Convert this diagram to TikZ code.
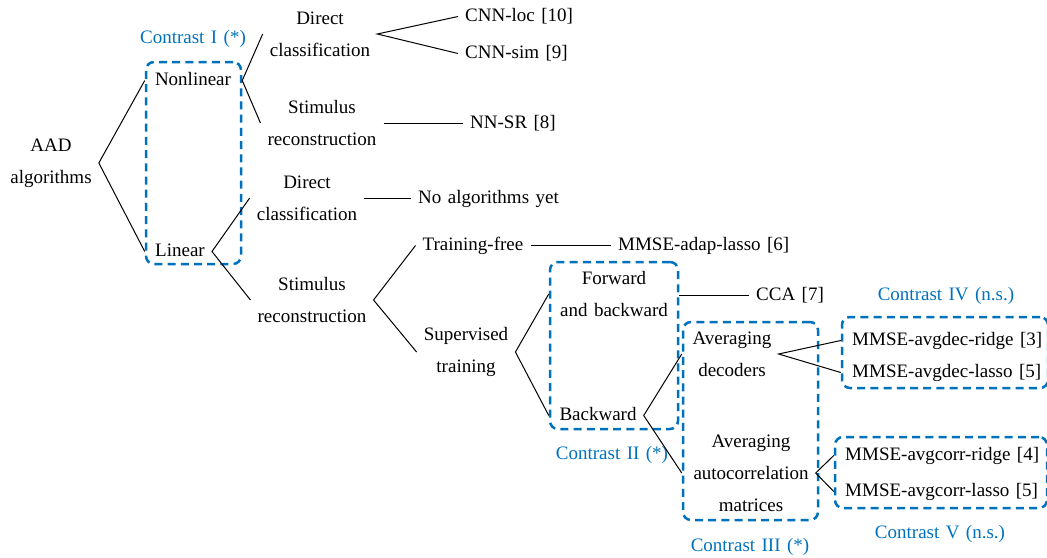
\documentclass[tikz,border=0pt]{standalone}
\usepackage{fontspec}
\setmainfont{Liberation Serif}
\definecolor{cblue}{RGB}{0,114,189}
\newcommand\diagfont{\fontsize{9.5}{16}\selectfont\spaceskip=0.34em plus 0.1em\relax}
\begin{document}
\begin{tikzpicture}[x=0.5pt,y=-0.5pt,
  every node/.style={font=\diagfont},
  lbl/.style={align=center, inner sep=3.4pt},
  one/.style={inner sep=3.4pt, text height=0.68em, text depth=0.2em, yshift=-1.25pt},
  ctr/.style={one, text=cblue},
  cbox/.style={draw=cblue, line width=1.25pt, dash pattern=on 4pt off 2.6pt, rounded corners=4pt, inner sep=0pt},
  conn/.style={draw=black, line width=0.5pt}]
\useasboundingbox (0,0) rectangle (1047,557);
% Level 0/1
\node[lbl] (aad) at (51,163) {AAD\\algorithms};
\node[ctr] (cI) at (193,36) {Contrast I (*)};
\node[cbox, minimum width=47.5pt, minimum height=101pt] (boxI) at (193.5,163) {};
\node[one] (nonlin) at (193,78) {Nonlinear};
\node[one] (lin) at (180,249) {Linear};
% Nonlinear branch
\node[lbl] (dc1) at (320,34) {Direct\\classification};
\node[lbl] (sr1) at (322,123) {Stimulus\\reconstruction};
\node[one, anchor=west] (cnnloc) at (458,14) {CNN-loc [10]};
\node[one, anchor=west] (cnnsim) at (458,51) {CNN-sim [9]};
\node[one, anchor=west] (nnsr) at (463,121) {NN-SR [8]};
% Linear branch
\node[lbl] (dc2) at (307,198) {Direct\\classification};
\node[one, anchor=west] (noalg) at (411,196) {No algorithms yet};
\node[lbl] (sr2) at (312,300) {Stimulus\\reconstruction};
\node[one] (trfree) at (473,243) {Training-free};
\node[one, anchor=west] (adap) at (611,243) {MMSE-adap-lasso [6]};
\node[lbl] (sup) at (466,352) {Supervised\\training};
% Contrast II
\node[cbox, minimum width=64pt, minimum height=83.5pt] (boxII) at (614,345.5) {};
\node[lbl] (fwd) at (614,294) {Forward\\and backward};
\node[one] (back) at (598,413) {Backward};
\node[ctr] (cII) at (612,452) {Contrast II (*)};
\node[one, anchor=west] (cca) at (749,293) {CCA [7]};
% Contrast III
\node[cbox, minimum width=67.5pt, minimum height=99pt] (boxIII) at (750.5,421) {};
\node[lbl] (avgdec) at (732,354) {Averaging\\decoders};
\node[lbl] (avgcorr) at (751,473) {Averaging\\autocorrelation\\matrices};
\node[ctr] (cIII) at (750,544) {Contrast III (*)};
% Contrast IV
\node[ctr] (cIV) at (946,293) {Contrast IV (n.s.)};
\node[cbox, minimum width=103pt, minimum height=35.5pt] (boxIV) at (945,352.5) {};
\node[one, anchor=west] (ridge3) at (845,338) {MMSE-avgdec-ridge [3]};
\node[one, anchor=west] (lasso5) at (845,370) {MMSE-avgdec-lasso [5]};
% Contrast V
\node[cbox, minimum width=106pt, minimum height=35.5pt] (boxV) at (941,472.5) {};
\node[one, anchor=west] (ridge4) at (838,453) {MMSE-avgcorr-ridge [4]};
\node[one, anchor=west] (lasso5b) at (838,489) {MMSE-avgcorr-lasso [5]};
\node[ctr] (cV) at (940,531) {Contrast V (n.s.)};
% Connectors
\draw[conn] (boxI.west |- nonlin.center) -- (aad.east) -- (boxI.west |- lin.center);
\draw[conn] (dc1.west) -- (boxI.east |- nonlin.center) -- (sr1.west);
\draw[conn] (cnnloc.west) -- (dc1.east) -- (cnnsim.west);
\draw[conn] (sr1.east |- nnsr.center) -- (nnsr.west);
\draw[conn] (dc2.west) -- (lin.east) -- (sr2.west);
\draw[conn] (dc2.east |- noalg.center) -- (noalg.west);
\draw[conn] (trfree.west) -- (sr2.east) -- (sup.west |- sup.center);
\draw[conn] (trfree.east) -- (adap.west);
\draw[conn] (boxII.west |- fwd.center) -- (sup.east) -- (boxII.west |- back.center);
\draw[conn] (boxII.east |- cca.center) -- (cca.west);
\draw[conn] (boxIII.west |- avgdec.center) -- (back.east) -- (boxIII.west |- avgcorr.center);
\draw[conn] (boxIV.west |- ridge3.center) -- (avgdec.east) -- (boxIV.west |- lasso5.center);
\draw[conn] (boxV.west |- ridge4.center) -- (avgcorr.east) -- (boxV.west |- lasso5b.center);
\end{tikzpicture}
\end{document}
